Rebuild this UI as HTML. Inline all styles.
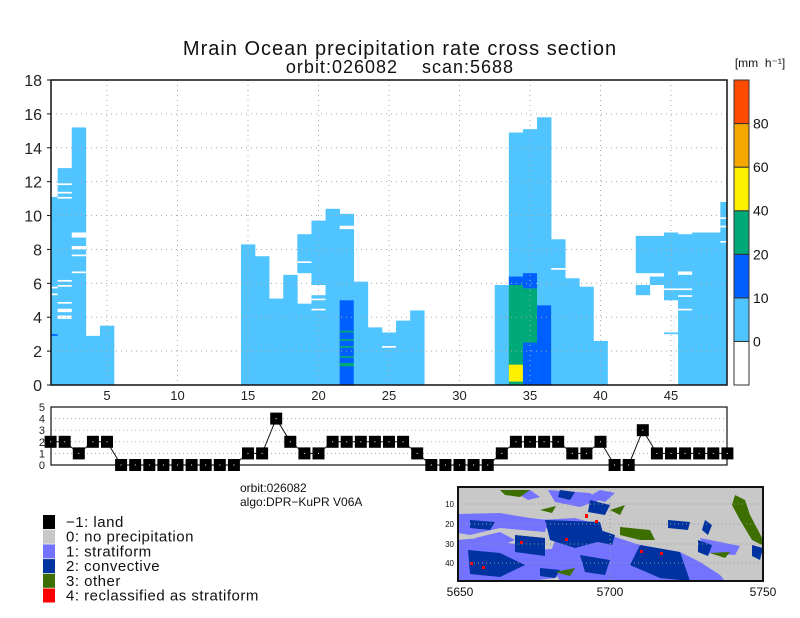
<!DOCTYPE html>
<html><head><meta charset="utf-8">
<style>
html,body{margin:0;padding:0;background:#fff;}
svg{display:block;font-family:"Liberation Sans",sans-serif;}
</style></head>
<body>
<svg id="chart" width="800" height="618" viewBox="0 0 800 618" xmlns="http://www.w3.org/2000/svg">
<text x="400" y="55" text-anchor="middle" font-size="20" fill="#111" letter-spacing="1" font-weight="300">Mrain Ocean precipitation rate cross section</text>
<text x="400" y="73" text-anchor="middle" font-size="18" fill="#111" letter-spacing="1" style="white-space:pre" xml:space="preserve">orbit:026082    scan:5688</text>
<text x="760" y="67" text-anchor="middle" font-size="12" fill="#111" style="white-space:pre" xml:space="preserve">[mm  h⁻¹]</text>
<g id="main"></g>
<g id="cbar"></g>
<g id="strip"></g>
<text x="240" y="492" font-size="12" fill="#111">orbit:026082</text>
<text x="240" y="506" font-size="12" fill="#111">algo:DPR−KuPR V06A</text>
<g id="legend"></g>
<g id="map">
  <rect x="458" y="487" width="305" height="94" fill="#c8c8c8"/>
  <g fill="#7373ff">
    <polygon points="458,514 500,513 530,518 548,520 545,532 500,528 470,535 458,533"/>
    <polygon points="458,540 480,538 520,545 540,550 560,548 575,565 555,578 530,581 458,581"/>
    <polygon points="555,540 600,532 640,545 680,552 700,562 720,575 725,581 560,581 548,560"/>
    <polygon points="548,490 590,493 600,500 580,507 555,502"/>
    <polygon points="540,520 575,518 600,525 605,545 560,545"/>
    <polygon points="475,538 500,532 515,540 495,548"/>
    <polygon points="700,538 740,546 735,555 705,553"/>
    <polygon points="588,497 600,490 615,493 605,502"/>
    <polygon points="520,495 530,490 540,497 528,500"/>
  </g>
  <g fill="#0032a0">
    <polygon points="545,520 600,522 605,540 575,548 550,540"/>
    <polygon points="468,550 500,553 525,565 500,577 470,574"/>
    <polygon points="640,545 680,552 690,581 660,578 630,565"/>
    <polygon points="515,535 545,538 545,556 515,552"/>
    <polygon points="590,500 610,505 605,515 588,512"/>
    <polygon points="560,490 575,492 570,500 558,497"/>
    <polygon points="698,540 712,545 708,556 698,552"/>
    <polygon points="668,520 690,522 688,530 668,528"/>
    <polygon points="752,545 763,548 760,560 752,556"/>
    <polygon points="580,555 610,560 605,575 585,572"/>
    <polygon points="600,530 615,535 612,545 598,542"/>
    <polygon points="705,520 712,525 708,535 702,530"/>
    <polygon points="470,520 495,522 490,530 470,528"/>
    <polygon points="540,568 560,570 555,578 540,576"/>
  </g>
  <g fill="#3c6e00">
    <polygon points="735,495 745,500 750,515 758,530 763,540 762,545 752,540 740,520 732,505"/>
    <polygon points="620,527 650,530 655,540 640,540 620,535"/>
    <polygon points="610,510 625,505 620,515"/>
    <polygon points="500,490 530,490 520,497 505,495"/>
    <polygon points="555,572 575,568 570,576"/>
    <polygon points="710,553 730,552 725,558"/>
    <polygon points="540,510 556,506 552,513"/>
  </g>
  <g fill="#ff0000">
    <rect x="520" y="541" width="3" height="3"/><rect x="585" y="514" width="3" height="4"/>
    <rect x="595" y="520" width="3" height="3"/><rect x="640" y="550" width="3" height="3"/>
    <rect x="660" y="552" width="3" height="3"/><rect x="482" y="566" width="3" height="3"/>
    <rect x="470" y="562" width="3" height="3"/><rect x="565" y="538" width="3" height="3"/>
  </g>
  <g stroke="#999" stroke-dasharray="1,3" stroke-width="1">
    <line x1="458" x2="763" y1="504" y2="504"/><line x1="458" x2="763" y1="524" y2="524"/>
    <line x1="458" x2="763" y1="544" y2="544"/><line x1="458" x2="763" y1="563" y2="563"/>
    <line x1="610" x2="610" y1="487" y2="581"/>
  </g>
  <rect x="458" y="487" width="305" height="94" fill="none" stroke="#111" stroke-width="2"/>
  <g font-size="8" fill="#111" text-anchor="end">
    <text x="454" y="507">10</text><text x="454" y="527">20</text><text x="454" y="547">30</text><text x="454" y="566">40</text>
  </g>
  <g font-size="12" fill="#111" text-anchor="middle">
    <text x="460" y="596">5650</text><text x="610" y="596">5700</text><text x="763" y="596">5750</text>
  </g>
</g>
</svg>
<script>
// ---- main chart data ----
const xTicks = [5,10,15,20,25,30,35,40,45];
const yTicks = [0,2,4,6,8,10,12,14,16,18];
// segments: column index, base km, top km, class (0 gap,1 0-10,2 10-20,3 20-40,4 40-60)
const segCol = [1,1,1,1, 2,2,2,2,2,2,2,2,2, 3,3,3,3,3, 4,5, 15,16,17,18, 19,19,19, 20,20,20,20, 21, 22,22,22,22,22,22,22,22, 23,24,25,25,26,27, 33, 34,34,34,34, 35,35,35,35,35, 36,36, 37,37, 38,39,40, 43,43, 44,44, 45,45,45, 46,46,46,46,46, 47,48, 49,49,49,49];
const segBot = [0,5.7,5.3,2.9, 0,11.8,11.3,11.0,6.1,5.8,4.8,4.3,3.9, 0,8.7,8.0,7.6,6.6, 0,0, 0,0,0,0, 0,6.6,7.2, 0,5.3,5.0,4.4, 0, 0,9.2,0,3.1,2.6,2.2,1.6,1.1, 0,0,0,2.2,0,0, 0, 0,5.9,0,0.2, 0,0,2.4,5.7,2.4, 0,0, 0,6.8, 0,0,0, 5.3,6.6, 5.9,6.4, 5.0,5.6,3.0, 0,6.5,5.6,5.2,4.4, 0,0, 0,9.8,9.3,8.4];
const segTop = [11.1,5.8,5.4,3.0, 12.8,11.9,11.4,11.1,6.2,5.9,4.9,4.5,4.1, 15.2,9.0,8.2,7.7,6.7, 2.9,3.5, 8.3,7.6,5.1,6.5, 4.8,8.9,7.3, 9.7,5.9,5.1,4.5, 10.4, 10.1,9.4,5.0,3.2,2.7,2.3,1.7,1.3, 6.1,3.4,3.1,2.3,3.8,4.4, 5.9, 14.9,6.4,5.9,1.2, 15.1,2.4,5.7,6.6,2.5, 15.8,4.7, 8.6,6.9, 6.3,5.8,2.6, 5.9,8.8, 8.8,6.6, 9.0,5.7,3.1, 8.9,6.7,5.7,5.3,4.5, 9.0,9.0, 10.8,9.9,9.4,8.5];
const segCls = [1,0,0,2, 1,0,0,0,0,0,0,0,0, 1,0,0,0,0, 1,1, 1,1,1,1, 1,1,0, 1,0,0,0, 1, 1,0,2,3,3,3,3,3, 1,1,1,0,1,1, 1, 1,2,3,4, 1,2,3,2,2, 1,2, 1,0, 1,1,1, 1,1, 1,0, 1,0,1, 1,0,0,0,0, 1,1, 1,0,0,0];
// colorbar
const cbarLabels = ["0","10","20","40","60","80"];
const cbarColors = ["#ffffff","#50c4ff","#0060ff","#00aa78","#fff000","#f5a800","#ff4b00"];
// rain type per scan
const typeValues = [2,2,1,2,2,0,0,0,0,0,0,0,0,0,1,1,4,2,1,1,2,2,2,2,2,2,1,0,0,0,0,0,1,2,2,2,2,1,1,2,0,0,3,1,1,1,1,1,1];
const stripTicks = [0,1,2,3,4,5];
const legendLabels = ["−1: land","0: no precipitation","1: stratiform","2: convective","3: other","4: reclassified as stratiform"];
const legendColors = ["#000000","#c8c8c8","#7373ff","#0032a0","#3c6e00","#ff0000"];

const NS="http://www.w3.org/2000/svg";
function mk(tag,attrs,parent){const e=document.createElementNS(NS,tag);for(const k in attrs)e.setAttribute(k,attrs[k]);parent.appendChild(e);return e;}
const L=51,R=727,T=80,B=385;
const xs=v=>36.5+14.1*v;
const ys=v=>B-(B-T)*v/18;
const segColor=["#ffffff","#50c4ff","#0060ff","#00aa78","#fff000"];
const main=document.getElementById('main');


const clip=mk('clipPath',{id:'pc'},main);mk('rect',{x:L,y:T,width:R-L,height:B-T},clip);
const marks=mk('g',{'clip-path':'url(#pc)'},main);
for(let i=0;i<segCol.length;i++){
  const x0=xs(segCol[i]-0.5),x1=xs(segCol[i]+0.5);
  const r=mk('rect',{x:x0,y:ys(segTop[i]),width:x1-x0+0.3,height:ys(segBot[i])-ys(segTop[i]),fill:segColor[segCls[i]]},marks);
  
  
}
xTicks.forEach(t=>{const g=mk('line',{x1:xs(t),x2:xs(t),y1:T,y2:B,stroke:'#aaa','stroke-dasharray':'1,4'},main);
  
  const tx=mk('text',{x:xs(t),y:B+15,'text-anchor':'middle','font-size':13,fill:'#222'},main);tx.textContent=t;
  });
yTicks.forEach(t=>{if(t>0&&t<18){const g=mk('line',{x1:L,x2:R,y1:ys(t),y2:ys(t),stroke:'#aaa','stroke-dasharray':'1,4'},main);
  }
  const tx=mk('text',{x:42,y:ys(t)+6,'text-anchor':'end','font-size':16,fill:'#222'},main);tx.textContent=t;
  
  mk('line',{x1:L-4,x2:L,y1:ys(t),y2:ys(t),stroke:'#111'},main);});
mk('rect',{x:L,y:T,width:R-L,height:B-T,fill:'none',stroke:'#111','stroke-width':1.5},main);
const cb=document.getElementById('cbar');

const segH=(B-T)/cbarColors.length;
cbarColors.forEach((c,i)=>{const r=mk('rect',{x:734,y:B-(i+1)*segH,width:15,height:segH,fill:c,stroke:'#333','stroke-width':1},cb);
  });
cbarLabels.forEach((l,i)=>{const tx=mk('text',{x:753,y:B-(i+1)*segH+5,'font-size':14,fill:'#111'},cb);tx.textContent=l;
  });
const st=document.getElementById('strip');

const sT=407,sB=465;const sy=v=>sB-(sB-sT)*v/5;
stripTicks.forEach(t=>{if(t>0&&t<5)mk('line',{x1:L,x2:R,y1:sy(t),y2:sy(t),stroke:'#aaa','stroke-dasharray':'1,3'},st);
  const tx=mk('text',{x:45,y:sy(t)+4,'text-anchor':'end','font-size':11,fill:'#222'},st);tx.textContent=t;
  });
mk('rect',{x:L,y:sT,width:R-L,height:sB-sT,fill:'none',stroke:'#111','stroke-width':1.2},st);
let pts=typeValues.map((v,i)=>xs(i+1)+','+sy(v)).join(' ');
const pl=mk('polyline',{points:pts,fill:'none',stroke:'#111','stroke-width':1},st);

typeValues.forEach((v,i)=>{const r=mk('rect',{x:xs(i+1)-6,y:sy(v)-6,width:12,height:12,fill:'#000'},st);
  
  mk('rect',{x:xs(i+1)-0.5,y:sy(v)-0.5,width:1,height:1,fill:'#fff'},st);});
const lg=document.getElementById('legend');
legendLabels.forEach((l,i)=>{const y=515+i*14.7;
  const r=mk('rect',{x:43,y:y,width:12,height:14,fill:legendColors[i]},lg);
  
  const tx=mk('text',{x:66,y:y+12,'font-size':15,fill:'#111','letter-spacing':'0.5'},lg);tx.textContent=l;
  });
</script>
</body></html>
